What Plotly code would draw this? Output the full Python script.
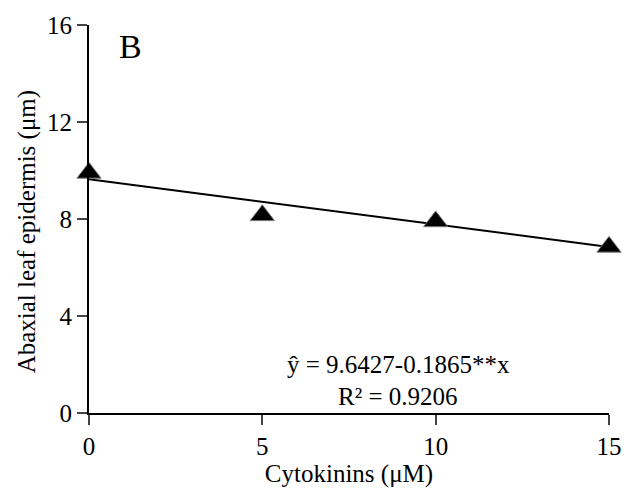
import plotly.graph_objects as go

cytokinins = [0, 5, 10, 15]
epidermis = [9.9, 8.15, 7.9, 6.85]
intercept = 9.6427
slope = -0.1865
x_ticks = [0, 5, 10, 15]
y_ticks = [0, 4, 8, 12, 16]

FONT = "Liberation Serif, Times New Roman, serif"

fit_x = [0, 15]
fit_y = [intercept + slope * v for v in fit_x]

fig = go.Figure()
fig.add_trace(go.Scatter(x=fit_x, y=fit_y, mode="lines",
                         line=dict(color="black", width=2), showlegend=False))
fig.add_trace(go.Scatter(x=cytokinins, y=epidermis, mode="markers",
                         marker=dict(symbol="triangle-up", size=21, color="black",
                                     line=dict(color="#777777", width=1)),
                         showlegend=False, cliponaxis=False))

L, R, T, B = 89, 12, 22, 74
fig.update_layout(
    width=634, height=490,
    margin=dict(l=L, r=R, t=T, b=B),
    plot_bgcolor="white", paper_bgcolor="white",
    font=dict(family=FONT, size=25, color="black"),
    xaxis=dict(range=[0, 15], tickvals=x_ticks, ticks="outside", ticklen=10,
               tickwidth=2, showline=True, linecolor="black", linewidth=2,
               showgrid=False, zeroline=False, ticklabeloverflow="allow",
               title=dict(text="Cytokinins (μM)", font=dict(size=25), standoff=0),
               tickfont=dict(size=25)),
    yaxis=dict(range=[0, 16], tickvals=y_ticks, ticks="outside", ticklen=10,
               tickwidth=2, showline=True, linecolor="black", linewidth=2,
               showgrid=False, zeroline=False, ticklabeloverflow="allow",
               tickfont=dict(size=25)),
)
pw = 634 - L - R
ph = 490 - T - B
def px(xp):
    return (xp - L) / pw
def py(yp):
    return (416 - yp) / ph
fig.add_annotation(text="Abaxial leaf epidermis (μm)", x=px(25), y=py(232), xref="paper", yref="paper",
                   showarrow=False, font=dict(size=25), textangle=-90,
                   xanchor="center", yanchor="middle")
fig.add_annotation(text="B", x=px(132), y=py(44), xref="paper", yref="paper",
                   showarrow=False, font=dict(size=34), xanchor="center", yanchor="middle")
fig.add_annotation(text="ŷ = 9.6427-0.1865**x", x=px(406), y=py(367), xref="paper", yref="paper",
                   showarrow=False, font=dict(size=25), xanchor="center", yanchor="middle")
fig.add_annotation(text="R² = 0.9206", x=px(406), y=py(399), xref="paper", yref="paper",
                   showarrow=False, font=dict(size=25), xanchor="center", yanchor="middle")

fig.write_html("out.html")
